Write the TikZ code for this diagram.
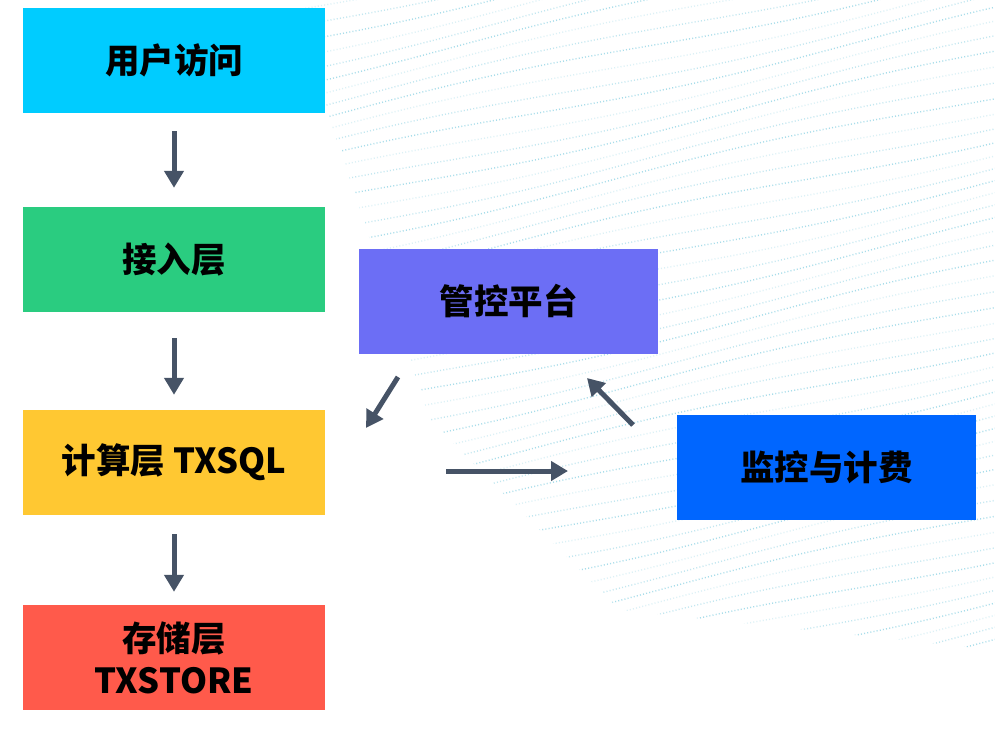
\documentclass[tikz,border=0pt]{standalone}
\usepackage{fontspec}
\setmainfont{Noto Sans CJK SC}
\usetikzlibrary{arrows.meta}
\definecolor{cUser}{RGB}{0,204,255}
\definecolor{cAccess}{RGB}{42,204,128}
\definecolor{cCompute}{RGB}{255,200,50}
\definecolor{cStore}{RGB}{255,90,75}
\definecolor{cMgmt}{RGB}{108,110,245}
\definecolor{cMon}{RGB}{0,102,255}
\definecolor{cArrow}{RGB}{70,83,102}
\definecolor{cDots}{RGB}{140,210,228}
\tikzset{
  box/.style={minimum width=302pt, minimum height=105pt, inner sep=0pt,
    font=\fontsize{34.5pt}{42pt}\selectfont\bfseries, text=black, align=center},
  arr/.style={draw=cArrow, line width=5pt,
    -{Triangle[length=17pt,width=19pt]}},
  bgline/.style={draw=cDots, line width=1.4pt, dash pattern=on 1pt off 2.2pt}
}
\begin{document}
\begin{tikzpicture}[x=1pt,y=-1pt]
\useasboundingbox (0,0) rectangle (995,731);
\fill[white] (0,0) rectangle (995,731);
% decorative background
\begin{scope}
\clip (300,0) -- (995,0) -- (995,650) -- (620,610) -- (430,420) -- (330,120) -- cycle;
\foreach \k in {-14,...,52}{
  \pgfmathsetmacro{\op}{0.3+0.45*mod(\k+20,3)/2}
  \draw[bgline, opacity=\op] plot[domain=280:995, samples=50, smooth]
    (\x, {-30 + 14*\k + 0.22*(995-\x) + 5*sin(0.55*\x + 23*\k)});
}
\end{scope}
% nodes
\node[box, fill=cUser]    (user)    at (174,60.5)  {用户访问};
\node[box, fill=cAccess]  (access)  at (174,259.5) {接入层};
\node[box, fill=cCompute] (compute) at (174,462.5) {计算层 TXSQL};
\node[box, fill=cStore]   (store)   at (174,657.5) {存储层\\TXSTORE};
\node[box, fill=cMgmt, minimum width=299pt]  (mgmt) at (508.5,301.5) {管控平台};
\node[box, fill=cMon, minimum width=299pt]   (mon)  at (826.5,467.5) {监控与计费};
% arrow end points
\coordinate (d1s) at (398,377);
\coordinate (d1e) at (366,428);
\coordinate (d2s) at (633,425);
\coordinate (d2e) at (587,378);
\coordinate (hs) at (446,471);
\coordinate (he) at (568,471);
% connectors
\draw[arr, shorten <=18pt, shorten >=19pt] (user) -- (access);
\draw[arr, shorten <=26pt, shorten >=15pt] (access) -- (compute);
\draw[arr, shorten <=19pt, shorten >=13pt] (compute) -- (store);
\draw[arr] (d1s) -- (d1e);
\draw[arr] (d2s) -- (d2e);
\draw[arr] (hs) -- (he);
\end{tikzpicture}
\end{document}
